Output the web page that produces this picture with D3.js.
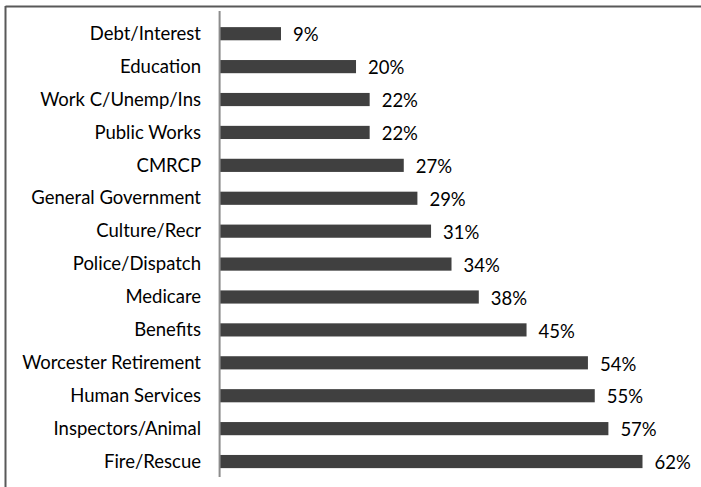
<!DOCTYPE html>
<html>
<head>
<meta charset="utf-8">
<script src="https://cdn.jsdelivr.net/npm/d3@7"></script>
<style>
  html, body { margin: 0; padding: 0; background: #fff; }
  svg { display: block; }
  text { font-family: Lato, "Open Sans", sans-serif; fill: #000; }
</style>
</head>
<body>
<svg id="chart" width="701" height="487"></svg>
<script>
const categories = ["Debt/Interest","Education","Work C/Unemp/Ins","Public Works","CMRCP","General Government","Culture/Recr","Police/Dispatch","Medicare","Benefits","Worcester Retirement","Human Services","Inspectors/Animal","Fire/Rescue"];
const values = [9,20,22,22,27,29,31,34,38,45,54,55,57,62];
const valueLabels = ["9%","20%","22%","22%","27%","29%","31%","34%","38%","45%","54%","55%","57%","62%"];

const svg = d3.select("#chart");
const x = d3.scaleLinear().domain([0, 62]).range([219.6, 642.5]);
const y = d3.scaleBand().domain(categories).range([17.25, 478]).paddingInner(0.6).paddingOuter(0.3);

// frame (top and left only)
svg.append("line").attr("x1", 5.5).attr("x2", 701).attr("y1", 6.5).attr("y2", 6.5)
  .attr("stroke", "#595959").attr("stroke-width", 2);
svg.append("line").attr("x1", 5.5).attr("x2", 5.5).attr("y1", 6).attr("y2", 487)
  .attr("stroke", "#595959").attr("stroke-width", 2);

// bars
svg.append("g").selectAll("rect").data(categories).join("rect")
  .attr("x", x(0))
  .attr("y", d => y(d))
  .attr("width", (d, i) => x(values[i]) - x(0))
  .attr("height", y.bandwidth())
  .attr("fill", "#404040");

// axis line
svg.append("line").attr("x1", 219.6).attr("x2", 219.6).attr("y1", 11).attr("y2", 477)
  .attr("stroke", "#8c8c8c").attr("stroke-width", 2);

// category labels
svg.append("g").selectAll("text").data(categories).join("text")
  .attr("x", 201)
  .attr("y", d => y(d) + y.bandwidth() / 2 + 1.5)
  .attr("text-anchor", "end")
  .attr("dominant-baseline", "middle")
  .attr("font-size", 18.5)
  .text(d => d);

// value labels
svg.append("g").selectAll("text").data(categories).join("text")
  .attr("x", (d, i) => x(values[i]) + 12)
  .attr("y", d => y(d) + y.bandwidth() / 2 + 3)
  .attr("dominant-baseline", "middle")
  .attr("font-size", 18.5)
  .text((d, i) => valueLabels[i]);
</script>
</body>
</html>
